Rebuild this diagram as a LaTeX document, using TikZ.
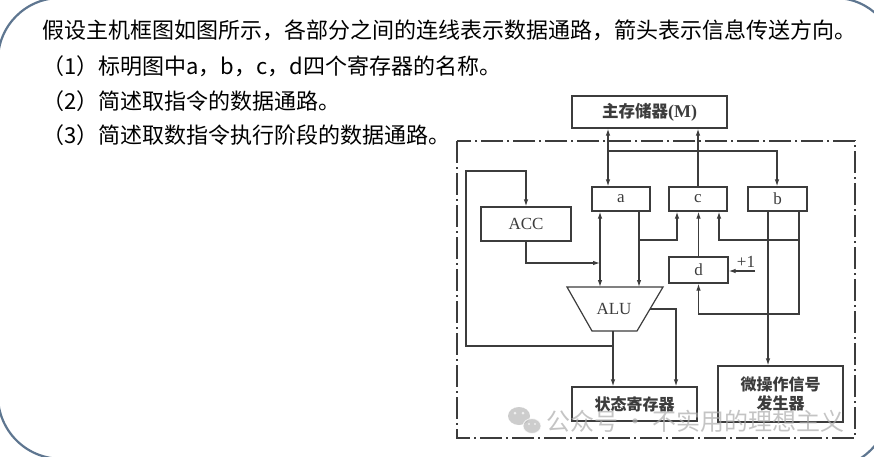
\documentclass[tikz,border=0pt]{standalone}
\usepackage{fontspec}
\setmainfont{Liberation Serif}
\newfontfamily\cjk{Noto Sans CJK SC}
\usetikzlibrary{arrows.meta,calc}
\definecolor{ln}{HTML}{3C3C3C}
\definecolor{fr}{HTML}{5E7690}
\begin{document}
\begin{tikzpicture}[x=1pt,y=-1pt,
  box/.style={draw=ln,line width=1.2pt,inner sep=0pt,text=ln},
  wire/.style={draw=ln,line width=1.2pt},
  arr/.style={wire,-{Latex[length=7pt,width=4.5pt]}},
  darr/.style={wire,{Latex[length=7pt,width=4.5pt]}-{Latex[length=7pt,width=4.5pt]}},
  q/.style={anchor=west,inner sep=0pt,font=\cjk\fontsize{22}{22}\selectfont},
  lab/.style={font=\fontsize{17}{17}\selectfont},
  clab/.style={font=\cjk\bfseries\fontsize{16}{19}\selectfont,align=center},
]
\useasboundingbox (0,0) rectangle (874,456);
\fill[white] (0,0) rectangle (874,456);
\draw[fr,line width=2.2pt,rounded corners=62pt] (-2,300) -- (-2,-2) -- (897,-2) -- (888,469) -- (-2,458) -- cycle;

% question text
\node[q] (t1) at (42,30) {假设主机框图如图所示，各部分之间的连线表示数据通路，箭头表示信息传送方向。};
\node[q] (t2) at (42,66) {（1）标明图中a，b，c，d四个寄存器的名称。};
\node[q] (t3) at (42,101) {（2）简述取指令的数据通路。};
\node[q] (t4) at (42,135) {（3）简述取数指令执行阶段的数据通路。};

% dash-dot frame
\draw[ln,line width=1.1pt,dash pattern=on 22pt off 4pt on 2pt off 4pt] (457,141) rectangle (855,438);

% boxes
\node[box,minimum width=155pt,minimum height=32pt] (mem) at (649.5,112) {{\cjk\bfseries\fontsize{16.5}{16.5}\selectfont 主存储器}{\bfseries\fontsize{18}{18}\selectfont (M)}};
\node[box,lab,minimum width=58pt,minimum height=24pt] (a) at (621,199) {a};
\node[box,lab,minimum width=58pt,minimum height=24pt] (c) at (698,199) {c};
\node[box,lab,minimum width=59pt,minimum height=24pt] (b) at (777.5,199) {b};
\node[box,lab,minimum width=90pt,minimum height=34pt] (acc) at (526,224) {ACC};
\node[box,lab,minimum width=59pt,minimum height=26pt] (d) at (698.5,270) {d};
\node[box,clab,minimum width=125pt,minimum height=34pt] (state) at (634.5,404) {状态寄存器};
\node[box,clab,minimum width=125pt,minimum height=56pt] (micro) at (780.5,394) {微操作信号\\发生器};
\draw[ln,line width=1.2pt] (567,287) -- (663,287) -- (637,331) -- (592,331) -- cycle;
\node[lab,text=ln] (alu) at (614,309) {ALU};
\node[lab,text=ln] (plus) at (746,262) {+1};

% coordinates
\coordinate (xm) at (608,0);
\coordinate (j1) at (608,151);
\coordinate (j2) at (777,151);
\coordinate (aluL) at (600,287);
\coordinate (aluR) at (639,287);
\coordinate (j3) at (639,240);
\coordinate (j4) at (677,240);
\coordinate (bR) at (799,0);
\coordinate (bL) at (768,0);
\coordinate (j5) at (799,314);
\coordinate (j7) at (799,240);
\coordinate (j8) at (719,240);
\coordinate (p1) at (755,271);
\coordinate (j9) at (600,263);
\coordinate (aluB) at (613,331);
\coordinate (j10) at (613,346);
\coordinate (j11) at (466,346);
\coordinate (j12) at (466,171);
\coordinate (aluO) at (650,309);
\coordinate (j13) at (676,309);

% connectors
\draw[darr] (mem.south -| xm) -- (a.north -| xm);
\draw[arr] (j1) -- (j2) -- (b.north -| j2);
\draw[arr] (c.north) -- (mem.south -| c.north);
\draw[darr] (a.south -| aluL) -- (aluL);
\draw[arr] (a.south -| aluR) -- (aluR);
\draw[arr] (j3) -- (j4) -- (c.south -| j4);
\draw[arr] (d.north) -- (c.south -| d.north);
\draw[arr] (b.south -| bR) -- (j5) -- (j5 -| d.south) -- (d.south);
\draw[arr] (j7) -- (j8) -- (c.south -| j8);
\draw[arr] (b.south -| bL) -- (micro.north -| bL);
\draw[arr] (p1) -- (d.east |- p1);
\draw[arr] (acc.south) -- (acc.south |- j9) -- (j9);
\draw[arr] (aluB) -- (state.north -| aluB);
\draw[arr] (j10) -- (j11) -- (j12) -- (j12 -| acc.north) -- (acc.north);
\draw[arr] (aluO) -- (j13) -- (state.north -| j13);

% watermark
\begin{scope}[opacity=0.7]
\fill[gray!55] (519,416) ellipse (11 and 9);
\filldraw[gray!55,draw=white,line width=1pt] (532,426) ellipse (9 and 7.5);
\fill[white] (515,413) circle (1.5) (523,413) circle (1.5) (529,424) circle (1.2) (535,424) circle (1.2);
\node[anchor=west,inner sep=0pt,text=gray!65,font=\cjk\fontsize{24}{24}\selectfont] (wm) at (546,421) {公众号 · 不实用的理想主义};
\end{scope}
\end{tikzpicture}
\end{document}
